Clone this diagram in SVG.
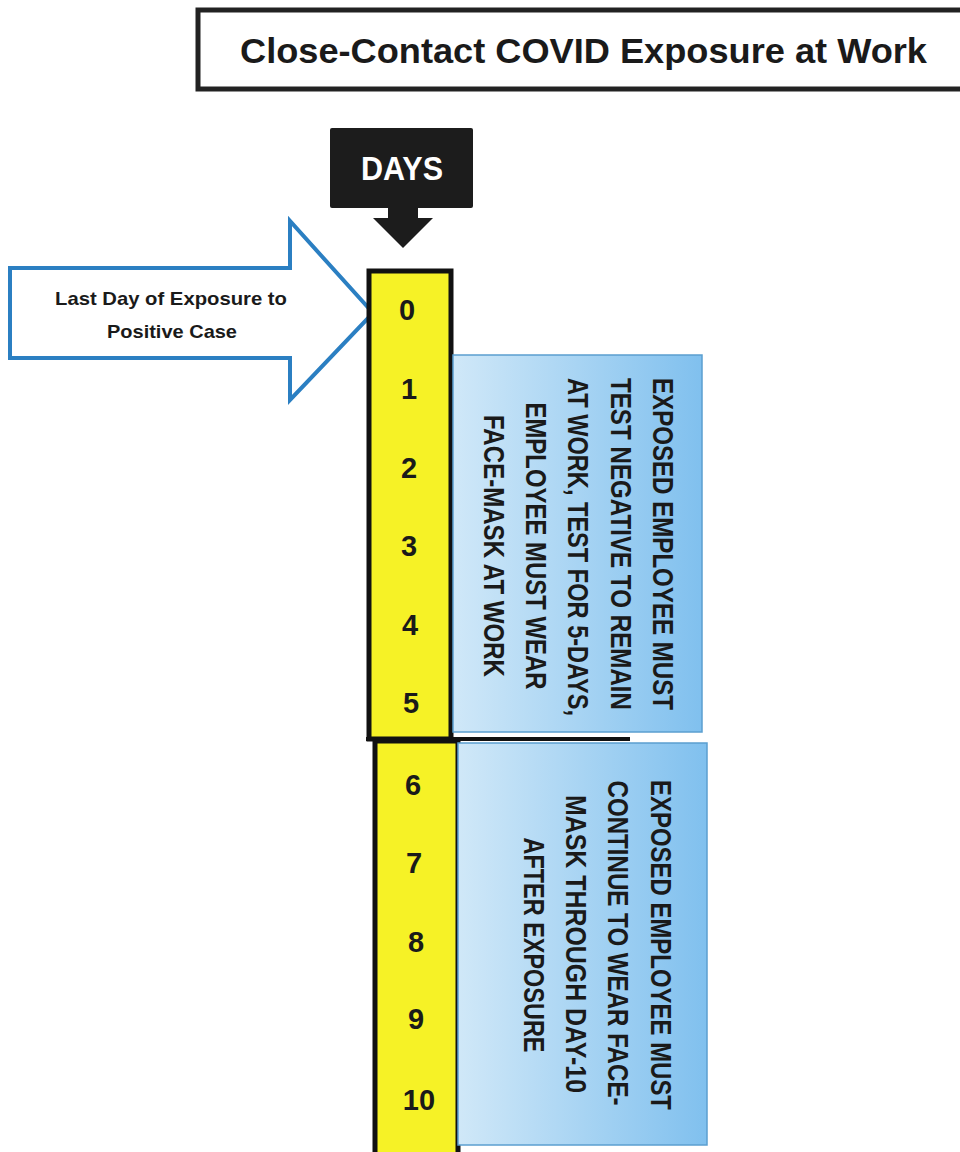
<svg xmlns="http://www.w3.org/2000/svg" width="960" height="1152" viewBox="0 0 960 1152">
<style>
.t{font-family:"Liberation Sans",Arial,sans-serif;font-weight:bold;fill:#1a1a1a}
.num{font-size:29px;text-anchor:middle}
.rot{font-size:30px;text-anchor:middle}
.col{fill:#f6f226;stroke:#111;stroke-width:5}
.box{stroke:#5b9fd0;stroke-width:1.5}
</style>
<defs>
<linearGradient id="bg" x1="0" y1="0" x2="1" y2="0">
<stop offset="0" stop-color="#d0e8f8"/>
<stop offset="1" stop-color="#80c0ee"/>
</linearGradient>
</defs>
<rect width="960" height="1152" fill="#fff"/>
<g id="title">
<rect x="198" y="10" width="780" height="79" fill="#fff" stroke="#222" stroke-width="5"/>
<text class="t" x="240" y="63" font-size="35" textLength="687" lengthAdjust="spacingAndGlyphs">Close-Contact COVID Exposure at Work</text>
</g>
<g id="days">
<rect x="330" y="128" width="143" height="80" rx="2" fill="#1c1c1c"/>
<text class="t" x="402" y="180" font-size="33" text-anchor="middle" textLength="82" lengthAdjust="spacingAndGlyphs" style="fill:#fff">DAYS</text>
<polygon points="388,207 418,207 418,218 433,218 403,248 373,218 388,218" fill="#1c1c1c"/>
</g>
<g id="last-day-arrow">
<polygon points="10,268 290,268 290,221 373,313 290,400 290,358 10,358" fill="#fff" stroke="#2b7fc2" stroke-width="4" stroke-linejoin="miter"/>
<text class="t" x="171" y="305" font-size="19" text-anchor="middle" textLength="232" lengthAdjust="spacingAndGlyphs">Last Day of Exposure to</text>
<text class="t" x="172" y="338" font-size="19" text-anchor="middle" textLength="130" lengthAdjust="spacingAndGlyphs">Positive Case</text>
</g>
<g id="days-column">
<rect class="col" x="369" y="271" width="82" height="468"/>
<rect class="col" x="375" y="741" width="83" height="415"/>
<line x1="366" y1="739" x2="630" y2="739" stroke="#111" stroke-width="4"/>
<text class="t num" x="407" y="320">0</text>
<text class="t num" x="409" y="399">1</text>
<text class="t num" x="409" y="478">2</text>
<text class="t num" x="409" y="556">3</text>
<text class="t num" x="410" y="635">4</text>
<text class="t num" x="411" y="713">5</text>
<text class="t num" x="413" y="795">6</text>
<text class="t num" x="414" y="873">7</text>
<text class="t num" x="416" y="952">8</text>
<text class="t num" x="416" y="1029">9</text>
<text class="t num" x="419" y="1110">10</text>
</g>
<g id="box-days-1-5">
<rect class="box" x="453" y="355" width="249" height="377" fill="url(#bg)"/>
<text class="t rot" transform="translate(653,544) rotate(90)" textLength="332" lengthAdjust="spacingAndGlyphs">EXPOSED EMPLOYEE MUST</text>
<text class="t rot" transform="translate(611,544) rotate(90)" textLength="332" lengthAdjust="spacingAndGlyphs">TEST NEGATIVE TO REMAIN</text>
<text class="t rot" transform="translate(568,547) rotate(90)" textLength="338" lengthAdjust="spacingAndGlyphs">AT WORK, TEST FOR 5-DAYS,</text>
<text class="t rot" transform="translate(526,546) rotate(90)" textLength="287" lengthAdjust="spacingAndGlyphs">EMPLOYEE MUST WEAR</text>
<text class="t rot" transform="translate(484,546) rotate(90)" textLength="262" lengthAdjust="spacingAndGlyphs">FACE-MASK AT WORK</text>
</g>
<g id="box-days-6-10">
<rect class="box" x="458" y="743" width="249" height="402" fill="url(#bg)"/>
<text class="t rot" transform="translate(651,945) rotate(90)" textLength="330" lengthAdjust="spacingAndGlyphs">EXPOSED EMPLOYEE MUST</text>
<text class="t rot" transform="translate(608,943) rotate(90)" textLength="325" lengthAdjust="spacingAndGlyphs">CONTINUE TO WEAR  FACE-</text>
<text class="t rot" transform="translate(566,944) rotate(90)" textLength="298" lengthAdjust="spacingAndGlyphs">MASK THROUGH DAY-10</text>
<text class="t rot" transform="translate(524,945) rotate(90)" textLength="215" lengthAdjust="spacingAndGlyphs">AFTER EXPOSURE</text>
</g>
</svg>
